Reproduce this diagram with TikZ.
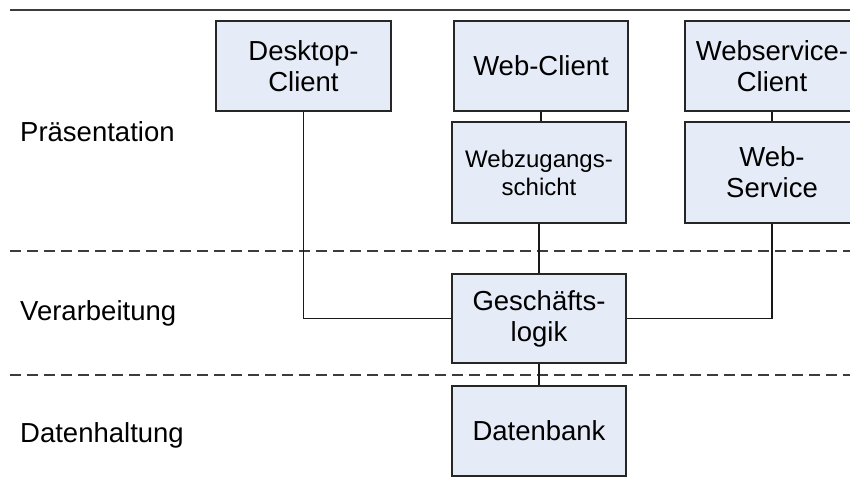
\documentclass[tikz,border=0pt]{standalone}
\usepackage{fontspec}
\setmainfont{Liberation Sans}
\definecolor{boxfill}{RGB}{230,236,247}
\definecolor{linegray}{RGB}{60,60,60}
\begin{document}
\begin{tikzpicture}[x=1pt,y=-1pt,
  box/.style={draw=black!85,line width=1.2pt,fill=boxfill,inner sep=0pt,align=center,
    font=\fontsize{27.5}{31}\selectfont},
  smallbox/.style={box,font=\fontsize{24}{28}\selectfont},
  layer/.style={anchor=west,inner sep=0pt,font=\fontsize{27.5}{30}\selectfont},
  conn/.style={draw=black!90,line width=1.2pt},
  sep/.style={draw=linegray,line width=1.2pt,dash pattern=on 11pt off 6pt}]
\useasboundingbox (0,0) rectangle (850,485);
\clip (0,0) rectangle (850,485);
\fill[white] (0,0) rectangle (850,485);
% separators
\draw[draw=linegray,line width=2pt] (10,10) -- (850,10);
\draw[sep] (10,251) -- (850,251);
\draw[sep] (10,375) -- (850,375);
% layer labels
\node[layer] (praes) at (20,132) {Präsentation};
\node[layer] (verarb) at (20,313) {Verarbeitung};
\node[layer] (daten) at (20,435) {Datenhaltung};
% boxes
\node[box,minimum width=175pt,minimum height=90pt] (desk) at (303.5,66) {Desktop-\\Client};
\node[box,minimum width=174pt,minimum height=90pt] (webc) at (541,66) {Web-Client};
\node[box,minimum width=174pt,minimum height=90pt] (wsc) at (772,66) {Webservice-\\Client};
\node[smallbox,minimum width=174pt,minimum height=101pt] (wz) at (539,172.5) {Webzugangs-\\schicht};
\node[box,minimum width=174pt,minimum height=101pt] (ws) at (772,172.5) {Web-\\Service};
\node[box,minimum width=174pt,minimum height=89pt] (gl) at (539,318.5) {Geschäfts-\\logik};
\node[box,minimum width=174pt,minimum height=90pt] (db) at (539,431) {Datenbank};
% connectors
\draw[conn] (webc.south) -- (webc.south |- wz.north);
\draw[conn] (wsc.south) -- (ws.north);
\draw[conn] (wz.south) -- (gl.north);
\draw[conn] (desk.south) -- (desk.south |- gl.west) -- (gl.west);
\draw[conn] (ws.south) -- (ws.south |- gl.east) -- (gl.east);
\draw[conn] (gl.south) -- (db.north);
\end{tikzpicture}
\end{document}
